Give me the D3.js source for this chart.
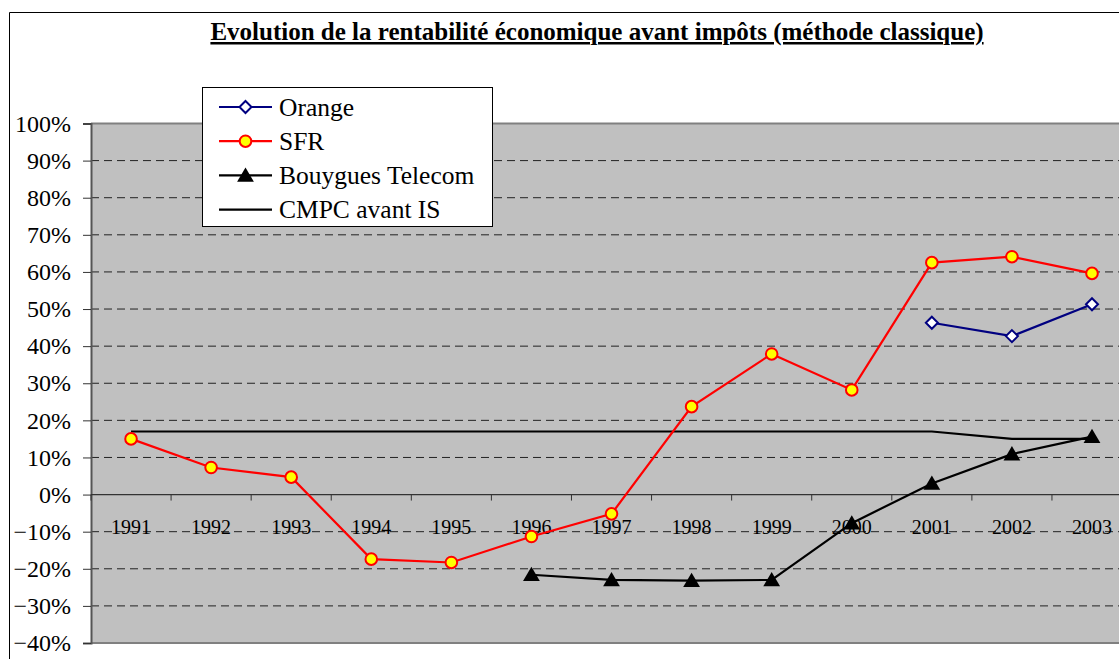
<!DOCTYPE html>
<html>
<head>
<meta charset="utf-8">
<script src="https://cdn.jsdelivr.net/npm/d3@7"></script>
<style>
  body { margin: 0; background: #fff; }
  svg { display: block; }
  svg text { font-family: 'Times New Roman', 'Liberation Serif', serif; }
</style>
</head>
<body>
<div id="chart"></div>
<script>
// Data
const years = ['1991', '1992', '1993', '1994', '1995', '1996', '1997', '1998', '1999', '2000', '2001', '2002', '2003']
const orange = [null, null, null, null, null, null, null, null, null, null, 0.463, 0.427, 0.513]
const sfr = [0.15, 0.073, 0.047, -0.174, -0.183, -0.113, -0.052, 0.237, 0.379, 0.282, 0.625, 0.641, 0.596]
const bouygues = [null, null, null, null, null, -0.216, -0.230, -0.232, -0.230, -0.077, 0.030, 0.109, 0.156]
const cmpc = [0.17, 0.17, 0.17, 0.17, 0.17, 0.17, 0.17, 0.17, 0.17, 0.17, 0.17, 0.15, 0.15]
const yTicks = [-0.4, -0.3, -0.2, -0.1, 0, 0.1, 0.2, 0.3, 0.4, 0.5, 0.6, 0.7, 0.8, 0.9, 1.0]

const series = [
  {name: 'Orange', values: orange, color: '#000080', marker: 'diamond'},
  {name: 'SFR', values: sfr, color: '#ff0000', marker: 'circle'},
  {name: 'Bouygues Telecom', values: bouygues, color: '#000000', marker: 'triangle'},
  {name: 'CMPC avant IS', values: cmpc, color: '#000000', marker: null}
]

const serif = "'Times New Roman', 'Liberation Serif', serif"
const width = 1119, height = 659
const plot = {left: 91, top: 123.5, bottom: 643, step: 80.08}

const svg = d3.select("#chart")
  .append("svg")
  .attr("width", width)
  .attr("height", height)
  .attr("font-family", serif)

// Outer frame
svg.append("path")
  .attr("d", "M9.5," + height + "V12.5H" + width)
  .attr("fill", "none")
  .attr("stroke", "#000")
  .attr("stroke-width", 1)

// Title
svg.append("text")
  .attr("x", 597)
  .attr("y", 40)
  .attr("text-anchor", "middle")
  .attr("font-family", serif)
  .attr("font-size", 25)
  .attr("font-weight", "bold")
  .style("text-decoration", "underline")
  .text("Evolution de la rentabilité économique avant impôts (méthode classique)")

// Scales
const x = d3.scalePoint()
  .domain(years)
  .range([plot.left, plot.left + years.length * plot.step])
  .padding(0.5)
const y = d3.scaleLinear()
  .domain([-0.4, 1])
  .range([plot.bottom, plot.top])

const plotRight = plot.left + years.length * plot.step

// Plot background
svg.append("rect")
  .attr("x", plot.left)
  .attr("y", plot.top)
  .attr("width", plotRight - plot.left)
  .attr("height", plot.bottom - plot.top)
  .attr("fill", "#c0c0c0")

// Gridlines
svg.append("g")
  .selectAll("line")
  .data(yTicks.filter(d => d !== 0 && d !== -0.4 && d !== 1))
  .enter()
  .append("line")
    .attr("x1", plot.left)
    .attr("x2", plotRight)
    .attr("y1", d => y(d))
    .attr("y2", d => y(d))
    .attr("stroke", "#222")
    .attr("stroke-width", 1)
    .attr("stroke-dasharray", "8,5")

// Plot border (top / bottom grey)
svg.append("line")
  .attr("x1", plot.left).attr("x2", plotRight)
  .attr("y1", plot.top).attr("y2", plot.top)
  .attr("stroke", "#808080").attr("stroke-width", 2)
svg.append("line")
  .attr("x1", plot.left).attr("x2", plotRight)
  .attr("y1", plot.bottom).attr("y2", plot.bottom)
  .attr("stroke", "#808080").attr("stroke-width", 2)

// Y axis
const yAxis = svg.append("g")
  .attr("transform", "translate(" + plot.left + ",0)")
  .call(d3.axisLeft(y)
    .tickValues(yTicks)
    .tickSize(8)
    .tickPadding(12)
    .tickFormat(d3.format(".0%")))
  .attr("font-family", serif)
  .attr("font-size", 24)
yAxis.select(".domain")
  .attr("stroke", "#555")
  .attr("stroke-width", 2)
yAxis.selectAll(".tick line").attr("stroke", "#333")
yAxis.selectAll("text")
  .attr("fill", "#000")

// X axis on the zero line, ticks between categories
const xAxisG = svg.append("g")
xAxisG.append("line")
  .attr("x1", plot.left).attr("x2", plotRight)
  .attr("y1", y(0)).attr("y2", y(0))
  .attr("stroke", "#333").attr("stroke-width", 1.2)
xAxisG.selectAll(".xtick")
  .data(years)
  .enter()
  .append("line")
    .attr("class", "xtick")
    .attr("x1", d => x(d) - plot.step / 2)
    .attr("x2", d => x(d) - plot.step / 2)
    .attr("y1", y(0))
    .attr("y2", y(0) + 6)
    .attr("stroke", "#333")
xAxisG.selectAll(".xlabel")
  .data(years)
  .enter()
  .append("text")
    .attr("class", "xlabel")
    .attr("x", d => x(d))
    .attr("y", y(0) + 39)
    .attr("text-anchor", "middle")
    .attr("font-family", serif)
    .attr("font-size", 20)
    .text(d => d)

// Lines
const line = d3.line()
  .defined(d => d.v !== null)
  .x(d => x(d.year))
  .y(d => y(d.v))

const diamond = s => "M0," + (-s) + "L" + s + ",0L0," + s + "L" + (-s) + ",0Z"
const triangle = s => "M0," + (-s) + "L" + (s * 1.05) + "," + (s * 0.8) + "L" + (-s * 1.05) + "," + (s * 0.8) + "Z"

function drawMarker(g, marker, color) {
  if (marker === 'circle') {
    g.append("circle")
      .attr("r", 5.8)
      .attr("fill", "#ffff00")
      .attr("stroke", color)
      .attr("stroke-width", 2)
  } else if (marker === 'diamond') {
    g.append("path")
      .attr("d", diamond(6))
      .attr("fill", "#fff")
      .attr("stroke", color)
      .attr("stroke-width", 2)
  } else if (marker === 'triangle') {
    g.append("path")
      .attr("d", triangle(8))
      .attr("fill", "#000")
  }
}

// draw CMPC first so it sits under the markers
const drawOrder = [series[3], series[2], series[1], series[0]]
drawOrder.forEach(s => {
  const pts = years.map((yr, i) => ({year: yr, v: s.values[i]}))
  svg.append("path")
    .datum(pts)
    .attr("fill", "none")
    .attr("stroke", s.color)
    .attr("stroke-width", 2.2)
    .attr("d", line)
  if (s.marker) {
    pts.filter(d => d.v !== null).forEach(d => {
      const g = svg.append("g")
        .attr("transform", "translate(" + x(d.year) + "," + y(d.v) + ")")
      drawMarker(g, s.marker, s.color)
    })
  }
})

// Legend
const legend = svg.append("g")
legend.append("rect")
  .attr("x", 202.5)
  .attr("y", 87.5)
  .attr("width", 290)
  .attr("height", 139)
  .attr("fill", "#fff")
  .attr("stroke", "#000")
  .attr("stroke-width", 1)

series.forEach((s, i) => {
  const ly = 107 + i * 34.2
  legend.append("line")
    .attr("x1", 219).attr("x2", 272)
    .attr("y1", ly).attr("y2", ly)
    .attr("stroke", s.color)
    .attr("stroke-width", 2.2)
  if (s.marker) {
    const g = legend.append("g").attr("transform", "translate(245.5," + ly + ")")
    drawMarker(g, s.marker, s.color)
  }
  legend.append("text")
    .attr("x", 279)
    .attr("y", ly)
    .attr("dy", "0.34em")
    .attr("font-family", serif)
    .attr("font-size", 25.5)
    .text(s.name)
})
</script>
</body>
</html>
